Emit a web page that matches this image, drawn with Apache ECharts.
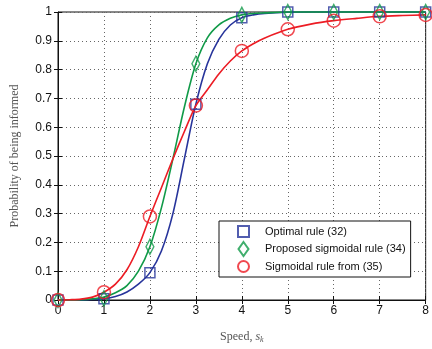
<!DOCTYPE html>
<html>
<head>
<meta charset="utf-8">
<script src="https://cdn.jsdelivr.net/npm/echarts@6/dist/echarts.min.js"></script>
<style>
  html, body { margin: 0; padding: 0; background: #fff; }
  #chart { width: 432px; height: 349px; }
</style>
</head>
<body>
<div id="chart"></div>
<script>
const yTicks = [0, 0.1, 0.2, 0.3, 0.4, 0.5, 0.6, 0.7, 0.8, 0.9, 1];
const markerSpeeds = [0, 1, 2, 3, 4, 5, 6, 7, 8];
const optimalMarks = [0, 0.004, 0.095, 0.68, 0.98, 1, 1, 1, 1];
const proposedMarks = [0, 0.006, 0.185, 0.82, 0.99, 1, 1, 1, 1];
const fromMarks = [0, 0.027, 0.29, 0.675, 0.865, 0.94, 0.97, 0.985, 0.99];

// curve values
const curveSpeeds = [0, 0.25, 0.5, 0.75, 1, 1.25, 1.5, 1.75, 2, 2.25, 2.5, 2.75, 3, 3.25, 3.5, 3.75, 4, 4.25, 4.5, 5, 5.5, 6, 6.5, 7, 7.5, 8];
const optimalCurve = [0, 0, 0.0005, 0.0015, 0.004, 0.012, 0.028, 0.055, 0.095, 0.17, 0.3, 0.49, 0.68, 0.82, 0.905, 0.955, 0.98, 0.99, 0.995, 0.999, 1, 1, 1, 1, 1, 1];
const proposedCurve = [0, 0, 0.001, 0.004, 0.01, 0.025, 0.05, 0.1, 0.185, 0.32, 0.49, 0.67, 0.82, 0.91, 0.955, 0.978, 0.99, 0.995, 0.997, 1, 1, 1, 1, 1, 1, 1];
const fromCurve = [0, 0.001, 0.003, 0.01, 0.027, 0.055, 0.105, 0.185, 0.29, 0.39, 0.49, 0.585, 0.675, 0.73, 0.785, 0.83, 0.865, 0.89, 0.91, 0.94, 0.958, 0.97, 0.978, 0.985, 0.988, 0.99];

const BLUE = '#27349b';
const GREEN = '#109a48';
const RED = '#ec1c24';

const SQUARE = 'path://M0,0L10,0L10,10L0,10Z';
const DIAMOND = 'path://M5,0L10,7L5,14L0,7Z';

const zip = (xs, ys) => xs.map((x, i) => [x, ys[i]]);

const chart = echarts.init(document.getElementById('chart'), null, { renderer: 'canvas' });

const lineSeries = (data, color) => ({
  type: 'line',
  data: zip(curveSpeeds, data),
  smooth: 0.3,
  showSymbol: false,
  silent: true,
  clip: false,
  lineStyle: { color, width: 1.6 },
  z: 2,
});

const markSeries = (name, data, color, symbol, size) => ({
  name,
  type: 'scatter',
  data: zip(markerSpeeds, data),
  symbol,
  symbolSize: size,
  symbolKeepAspect: true,
  clip: false,
  itemStyle: { color: 'rgba(255,255,255,0)', borderColor: color, borderWidth: 1.5 },
  z: 3,
});

const axisFont = { color: '#111', fontFamily: 'Liberation Sans, Arial, sans-serif', fontSize: 12 };

const option = {
  animation: false,
  backgroundColor: '#fff',
  grid: { left: 58, right: 5, top: 12, bottom: 45, show: true, borderColor: '#111', borderWidth: 1 },
  legend: {
    left: 219,
    top: 221,
    orient: 'vertical',
    itemGap: 3,
    itemWidth: 11,
    itemHeight: 14,
    symbolKeepAspect: true,
    padding: [4, 5, 4, 18],
    backgroundColor: '#fff',
    borderColor: '#111',
    borderWidth: 1,
    borderRadius: 0,
    textStyle: { color: '#111', fontFamily: 'Liberation Sans, Arial, sans-serif', fontSize: 11, padding: [0, 0, 0, 11] },
    data: ['Optimal rule (32)', 'Proposed sigmoidal rule (34)', 'Sigmoidal rule from (35)'],
  },
  xAxis: [
    {
      type: 'value',
      min: 0,
      max: 8,
      interval: 1,
      name: '{n|Speed, }{s|s}{k|k}',
      nameLocation: 'middle',
      nameGap: 30,
      nameTextStyle: {
        rich: {
          n: { fontFamily: 'Liberation Serif, Times New Roman, serif', fontSize: 12, color: '#555' },
          s: { fontFamily: 'Liberation Serif, Times New Roman, serif', fontStyle: 'italic', fontSize: 12, color: '#555' },
          k: { fontFamily: 'Liberation Serif, Times New Roman, serif', fontStyle: 'italic', fontSize: 8, color: '#555', verticalAlign: 'bottom', padding: [6, 0, 0, 0] },
        },
      },
      axisLine: { show: true, lineStyle: { color: '#111' } },
      axisTick: { inside: true, length: 4, lineStyle: { color: '#111' } },
      axisLabel: { ...axisFont, margin: 5 },
      splitLine: { show: true, lineStyle: { color: '#666', type: [1, 3], width: 1 } },
    },
    {
      type: 'value',
      position: 'top',
      min: 0,
      max: 8,
      interval: 1,
      axisLine: { show: false },
      axisTick: { inside: true, length: 4, lineStyle: { color: '#111' } },
      axisLabel: { show: false },
      splitLine: { show: false },
    },
  ],
  yAxis: [
    {
      type: 'value',
      min: 0,
      max: 1,
      interval: 0.1,
      name: 'Probability of being informed',
      nameLocation: 'middle',
      nameGap: 37,
      nameTextStyle: { fontFamily: 'Liberation Serif, Times New Roman, serif', fontSize: 12, color: '#555' },
      axisLine: { show: true, lineStyle: { color: '#111' } },
      axisTick: { inside: true, length: 4, lineStyle: { color: '#111' } },
      axisLabel: { ...axisFont, margin: 6, formatter: (v) => String(yTicks.find((t) => Math.abs(t - v) < 1e-9) ?? v) },
      splitLine: { show: true, lineStyle: { color: '#666', type: [1, 3], width: 1 } },
    },
    {
      type: 'value',
      position: 'right',
      min: 0,
      max: 1,
      interval: 0.1,
      axisLine: { show: false },
      axisTick: { inside: true, length: 4, lineStyle: { color: '#111' } },
      axisLabel: { show: false },
      splitLine: { show: false },
    },
  ],
  series: [
    lineSeries(optimalCurve, BLUE),
    lineSeries(proposedCurve, GREEN),
    lineSeries(fromCurve, RED),
    markSeries('Optimal rule (32)', optimalMarks, BLUE, SQUARE, 10),
    markSeries('Proposed sigmoidal rule (34)', proposedMarks, GREEN, DIAMOND, [11, 15]),
    markSeries('Sigmoidal rule from (35)', fromMarks, RED, 'circle', 13),
  ],
};

chart.setOption(option);
</script>
</body>
</html>
